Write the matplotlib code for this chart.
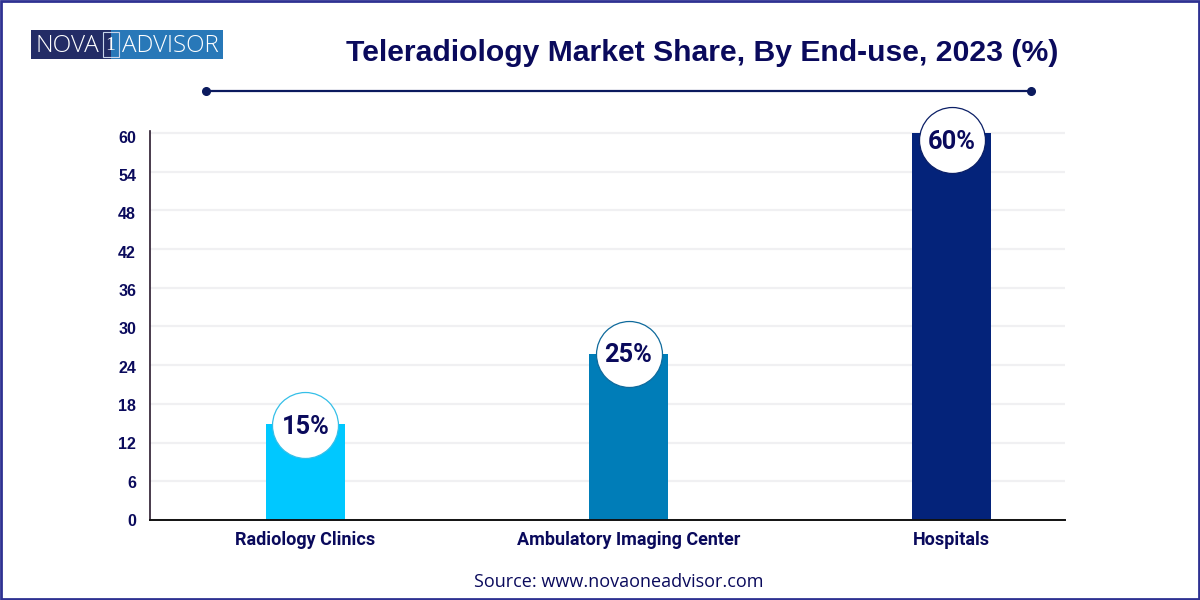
import matplotlib
matplotlib.use("Agg")
import matplotlib.pyplot as plt
from matplotlib.patches import Rectangle
from matplotlib.transforms import ScaledTranslation

categories = ["Radiology Clinics", "Ambulatory Imaging Center", "Hospitals"]
bar_heights = [14.85, 25.7, 60]
bar_labels = ["15%", "25%", "60%"]
y_ticks = [0, 6, 12, 18, 24, 30, 36, 42, 48, 54, 60]

navy = "#0a0a5c"
bar_colors = ["#00c8ff", "#007db8", "#04237a"]
edge_colors = ["#35bfe8", "#0f6a9c", "#0b1f66"]

plt.rcParams["font.family"] = ["Liberation Sans", "DejaVu Sans"]

fig = plt.figure(figsize=(12, 6), dpi=100)

# overlay in pixel coordinates for frame, logo and title rule
bg = fig.add_axes([0, 0, 1, 1], zorder=0)
bg.set_xlim(0, 1200)
bg.set_ylim(600, 0)
bg.axis("off")

bg.add_patch(Rectangle((1, 1), 1198, 598, fill=False, ec="#2e3192", lw=2))

bg.add_patch(Rectangle((31, 30), 80, 29, fc="#232c66", ec="none"))
bg.add_patch(Rectangle((111, 30), 112, 29, fc="#2878b8", ec="none"))
bg.add_patch(Rectangle((102.5, 32), 16, 25, fill=False, ec="#c8d4ea", lw=0.8))
bg.text(35, 46.5, "NOVA", color="white", fontsize=17.6, family="Open Sans",
        weight="light", va="center", ha="left")
bg.text(110.5, 45.5, "1", color="white", fontsize=14, family="Liberation Serif",
        va="center", ha="center")
bg.text(122, 46.5, "ADVISOR", color="white", fontsize=17.4, family="Open Sans",
        weight="light", va="center", ha="left")

bg.text(702, 53, "Teleradiology Market Share, By End-use, 2023 (%)", color=navy,
        fontsize=21.7, weight="bold", ha="center", va="center")
bg.plot([206, 1031], [90.5, 90.5], color="#0b1a5e", lw=1.6,
        marker="o", ms=5.5, markevery=[0, 1])

bg.text(619, 582, "Source: www.novaoneadvisor.com", color=navy, fontsize=13,
        family="Open Sans", ha="center", va="center")

# main chart
ax = fig.add_axes([150 / 1200, 80 / 600, 915 / 1200, 389 / 600], zorder=1)
ax.patch.set_alpha(0)

x = list(range(len(categories)))
ax.bar(x, bar_heights, width=0.245, color=bar_colors, zorder=2)

# circle centres do not sit exactly on the bar tops
circle_shift = [-0.15, 0.1, -1.1]
for i, h in enumerate(bar_heights):
    cy = h + circle_shift[i]
    ax.scatter(i, cy, s=2256, facecolor="white", edgecolor=edge_colors[i],
               linewidth=0.9, zorder=3, clip_on=False)
    ax.text(i, cy + 0.15, bar_labels[i], color=navy, fontsize=18.3, weight="bold",
            family="Roboto", ha="center", va="center_baseline", zorder=4)

ax.set_xlim(-0.481, 2.351)
ax.set_ylim(0, 60.3)
ax.set_yticks(y_ticks)
ax.set_xticks(x)
ax.set_xticklabels(categories, color=navy, fontsize=13, weight="bold",
                   family="Roboto")
ax.tick_params(axis="x", length=0, pad=8)
ax.tick_params(axis="y", length=0, pad=10, labelsize=11.5, labelcolor=navy)
for v, lab in zip(y_ticks, ax.get_yticklabels()):
    lab.set_fontweight("bold")
    # tick labels run slightly tighter than the gridlines
    lab.set_transform(lab.get_transform() + ScaledTranslation(0, -v / 60 * 2.8 / 72, fig.dpi_scale_trans))

ax.grid(axis="y", color="#f0f0f2", lw=1.6, zorder=0)
ax.set_axisbelow(True)
for s in ["top", "right"]:
    ax.spines[s].set_visible(False)
ax.spines["left"].set_color("#2a1a2e")
ax.spines["left"].set_linewidth(1.2)
ax.spines["bottom"].set_color("#111111")
ax.spines["bottom"].set_linewidth(1.4)

fig.savefig("out.png", dpi=100)
